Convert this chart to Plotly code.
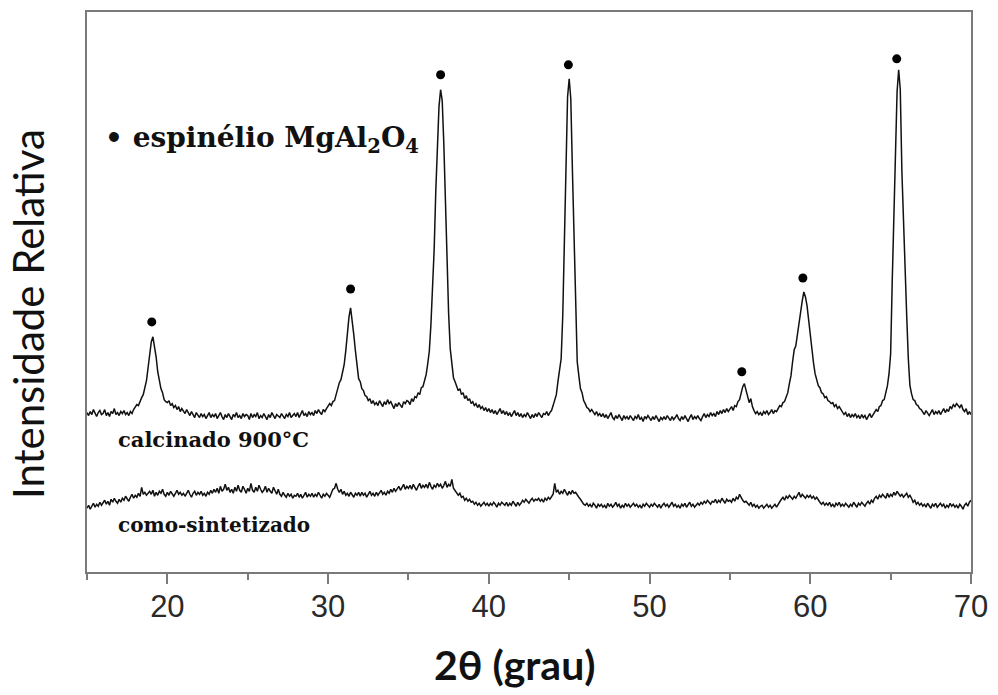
import numpy as np
import plotly.graph_objects as go

# Scan grid: 2theta from 15.0 to 70.0 degrees in 0.1 degree steps
SCAN_START = 15.0
SCAN_STEP = 0.1

# Calcined sample (900 C), one row per degree (x.0 ... x.9)
calcinado = [
    160, 157, 161, 158, 163, 159, 156, 160, 162, 158,  # 15
    159, 163, 157, 160, 156, 161, 159, 164, 158, 160,  # 16
    157, 161, 159, 162, 158, 160, 157, 161, 159, 163,  # 17
    166, 168, 167, 172, 175, 178, 186, 192, 205, 217,  # 18
    231, 236, 227, 216, 201, 193, 184, 180, 173, 171,  # 19
    170, 172, 167, 169, 165, 167, 163, 166, 161, 164,  # 20
    162, 159, 163, 160, 157, 161, 158, 155, 160, 157,  # 21
    155, 159, 156, 158, 154, 157, 160, 155, 158, 156,  # 22
    159, 154, 157, 160, 156, 153, 158, 155, 159, 156,  # 23
    153, 158, 156, 160, 155, 157, 154, 159, 156, 158,  # 24
    157, 153, 159, 155, 158, 156, 160, 154, 157, 155,  # 25
    159, 156, 153, 158, 155, 160, 157, 154, 158, 156,  # 26
    155, 159, 157, 154, 158, 156, 160, 155, 157, 159,  # 27
    156, 160, 155, 158, 162, 157, 159, 156, 161, 158,  # 28
    160, 157, 162, 159, 163, 160, 158, 163, 161, 164,  # 29
    166, 169, 167, 171, 172, 178, 182, 190, 193, 200,  # 30
    208, 222, 240, 256, 265, 254, 238, 222, 208, 194,  # 31
    191, 184, 182, 177, 176, 172, 174, 169, 172, 168,  # 32
    170, 167, 172, 169, 166, 171, 168, 173, 169, 171,  # 33
    167, 164, 169, 166, 170, 168, 165, 171, 169, 172,  # 34
    171, 168, 174, 171, 176, 175, 180, 178, 185, 186,  # 35
    193, 198, 209, 222, 249, 280, 324, 382, 432, 467,  # 36
    484, 473, 430, 371, 301, 259, 224, 207, 195, 191,  # 37
    187, 182, 184, 178, 180, 174, 177, 172, 174, 169,  # 38
    171, 167, 169, 165, 168, 164, 166, 162, 165, 161,  # 39
    164, 160, 163, 159, 162, 158, 161, 164, 159, 162,  # 40
    158, 161, 157, 160, 156, 159, 162, 157, 160, 156,  # 41
    159, 155, 158, 156, 160, 157, 154, 158, 155, 159,  # 42
    156, 160, 157, 155, 159, 158, 161, 157, 160, 162,  # 43
    167, 173, 178, 191, 202, 214, 257, 334, 402, 477,  # 44
    495, 475, 404, 332, 259, 211, 197, 184, 180, 172,  # 45
    169, 165, 164, 161, 163, 160, 158, 161, 157, 159,  # 46
    156, 159, 155, 158, 154, 157, 160, 155, 153, 157,  # 47
    154, 158, 155, 152, 157, 154, 156, 153, 157, 155,  # 48
    152, 156, 154, 158, 153, 155, 151, 156, 154, 157,  # 49
    155, 152, 156, 153, 157, 154, 151, 155, 153, 156,  # 50
    153, 157, 154, 152, 156, 153, 155, 158, 154, 152,  # 51
    156, 153, 157, 154, 151, 155, 158, 153, 156, 154,  # 52
    157, 154, 152, 156, 159, 155, 158, 156, 160, 157,  # 53
    159, 156, 161, 158, 162, 159, 163, 160, 164, 161,  # 54
    163, 166, 162, 167, 166, 171, 173, 181, 186, 189,  # 55
    182, 175, 170, 174, 166, 162, 159, 161, 158, 160,  # 56
    157, 161, 159, 162, 158, 160, 163, 159, 162, 161,  # 57
    164, 167, 166, 170, 171, 176, 180, 189, 197, 211,  # 58
    223, 227, 239, 251, 265, 272, 281, 276, 267, 251,  # 59
    237, 219, 210, 199, 194, 187, 185, 180, 179, 175,  # 60
    176, 172, 171, 169, 170, 166, 168, 164, 166, 163,  # 61
    161, 158, 160, 156, 159, 155, 158, 156, 159, 155,  # 62
    157, 154, 158, 155, 157, 153, 156, 159, 155, 158,  # 63
    160, 163, 161, 166, 167, 172, 173, 179, 187, 199,  # 64
    219, 292, 347, 404, 482, 504, 484, 402, 349, 292,  # 65
    257, 214, 187, 179, 173, 172, 168, 167, 164, 163,  # 66
    161, 158, 162, 159, 157, 160, 163, 158, 161, 159,  # 67
    162, 158, 161, 164, 160, 163, 161, 166, 164, 168,  # 68
    166, 169, 167, 165, 168, 163, 161, 164, 158, 161,  # 69
    158,                                               # 70
]

# As-synthesized sample (amorphous), same grid
como_sintetizado = [
    64, 67, 63, 66, 69, 65, 68, 66, 70, 67,  # 15
    69, 72, 68, 71, 67, 73, 70, 74, 71, 69,  # 16
    73, 70, 74, 72, 76, 73, 71, 75, 78, 74,  # 17
    77, 75, 79, 76, 85, 78, 80, 77, 79, 81,  # 18
    78, 82, 76, 80, 77, 81, 79, 83, 78, 76,  # 19
    80, 77, 81, 78, 76, 79, 82, 78, 80, 77,  # 20
    79, 76, 80, 82, 78, 75, 79, 81, 77, 80,  # 21
    78, 81, 77, 79, 76, 80, 78, 82, 79, 83,  # 22
    80, 84, 79, 86, 81, 83, 88, 82, 85, 80,  # 23
    83, 79, 85, 81, 87, 82, 80, 86, 83, 79,  # 24
    84, 81, 89, 82, 80, 85, 81, 87, 83, 80,  # 25
    82, 86, 80, 84, 81, 79, 85, 82, 78, 83,  # 26
    78, 76, 80, 77, 75, 79, 76, 78, 74, 77,  # 27
    76, 79, 75, 78, 74, 77, 80, 75, 78, 76,  # 28
    79, 75, 78, 76, 80, 77, 74, 78, 76, 79,  # 29
    77, 75, 79, 83, 84, 89, 83, 80, 83, 78,  # 30
    81, 77, 79, 76, 80, 78, 75, 79, 77, 80,  # 31
    76, 80, 77, 79, 75, 78, 81, 77, 79, 76,  # 32
    80, 77, 79, 82, 78, 80, 77, 81, 79, 83,  # 33
    80, 84, 81, 83, 86, 82, 85, 88, 83, 86,  # 34
    84, 87, 83, 88, 85, 82, 86, 89, 84, 87,  # 35
    85, 88, 84, 90, 86, 83, 87, 85, 89, 86,  # 36
    88, 84, 87, 91, 85, 88, 86, 93, 84, 82,  # 37
    80, 77, 79, 75, 76, 72, 74, 71, 73, 70,  # 38
    71, 68, 70, 67, 69, 66, 68, 70, 67, 69,  # 39
    66, 69, 67, 70, 68, 65, 69, 67, 70, 68,  # 40
    67, 70, 66, 69, 67, 71, 68, 66, 70, 67,  # 41
    69, 72, 70, 73, 71, 69, 72, 74, 71, 73,  # 42
    72, 74, 71, 73, 70, 74, 72, 75, 73, 76,  # 43
    78, 89, 80, 82, 78, 81, 79, 83, 80, 77,  # 44
    81, 78, 82, 79, 80, 77, 75, 73, 70, 68,  # 45
    67, 69, 66, 68, 65, 69, 67, 64, 68, 66,  # 46
    68, 65, 67, 64, 69, 66, 68, 65, 67, 70,  # 47
    66, 68, 64, 67, 65, 69, 66, 68, 65, 67,  # 48
    69, 66, 68, 65, 67, 64, 68, 66, 69, 67,  # 49
    65, 68, 66, 69, 67, 65, 68, 64, 67, 69,  # 50
    66, 68, 65, 67, 70, 66, 68, 65, 67, 64,  # 51
    68, 66, 69, 65, 67, 70, 66, 68, 65, 67,  # 52
    69, 67, 70, 68, 71, 69, 72, 70, 68, 71,  # 53
    70, 73, 69, 72, 70, 74, 71, 69, 73, 71,  # 54
    72, 70, 74, 71, 75, 73, 78, 74, 72, 70,  # 55
    71, 69, 67, 70, 66, 68, 65, 67, 64, 66,  # 56
    67, 64, 66, 68, 65, 67, 64, 66, 68, 65,  # 57
    68, 71, 73, 75, 72, 76, 74, 77, 75, 73,  # 58
    76, 74, 77, 80, 75, 78, 76, 74, 77, 75,  # 59
    77, 74, 76, 73, 75, 72, 70, 68, 70, 67,  # 60
    69, 67, 70, 66, 68, 65, 69, 67, 70, 66,  # 61
    68, 66, 69, 67, 65, 68, 66, 70, 67, 65,  # 62
    69, 67, 70, 68, 66, 69, 71, 68, 72, 70,  # 63
    74, 76, 73, 77, 75, 78, 76, 74, 79, 75,  # 64
    78, 76, 80, 77, 81, 79, 76, 78, 75, 77,  # 65
    79, 75, 77, 74, 70, 72, 68, 70, 67, 69,  # 66
    66, 68, 65, 69, 67, 64, 68, 66, 69, 65,  # 67
    67, 69, 66, 68, 64, 67, 65, 69, 66, 68,  # 68
    65, 67, 64, 68, 66, 63, 67, 69, 66, 70,  # 69
    72,                                      # 70
]

# Spinel MgAl2O4 reflections marked with a dot above each peak
spinel_2theta = [19.03, 31.4, 37.0, 44.95, 55.74, 59.54, 65.38]
spinel_mark_y = [251, 284, 499, 509, 201, 295, 515]

x_ticks = [20, 30, 40, 50, 60, 70]

two_theta = np.round(SCAN_START + SCAN_STEP * np.arange(len(calcinado)), 1)

fig = go.Figure()
fig.add_trace(go.Scatter(x=two_theta, y=como_sintetizado, mode="lines",
                         line=dict(color="#111111", width=1.5), name="como-sintetizado"))
fig.add_trace(go.Scatter(x=two_theta, y=calcinado, mode="lines",
                         line=dict(color="#111111", width=1.5), name="calcinado 900°C"))
fig.add_trace(go.Scatter(x=spinel_2theta, y=spinel_mark_y, mode="markers",
                         marker=dict(color="#000000", size=9), name="espinélio"))

serif = "DejaVu Serif"
fig.add_annotation(x=16.0, y=434, xref="x", yref="y", xanchor="left", yanchor="middle",
                   text="<b>• espinélio MgAl<sub>2</sub>O<sub>4</sub></b>", showarrow=False,
                   font=dict(family=serif, size=28, color="#111111"))
fig.add_annotation(x=16.8, y=133, xref="x", yref="y", xanchor="left", yanchor="middle",
                   text="<b>calcinado 900°C</b>", showarrow=False,
                   font=dict(family=serif, size=21, color="#111111"))
fig.add_annotation(x=16.8, y=47, xref="x", yref="y", xanchor="left", yanchor="middle",
                   text="<b>como-sintetizado</b>", showarrow=False,
                   font=dict(family=serif, size=20, color="#111111"))

# Axis titles
fig.add_annotation(x=0.484, y=-0.166, xref="paper", yref="paper", xanchor="center", yanchor="middle",
                   text="<b>2θ (grau)</b>", showarrow=False,
                   font=dict(family="Lato", size=41, color="#111111"))
fig.add_annotation(x=-0.066, y=0.46, xref="paper", yref="paper", xanchor="center", yanchor="middle",
                   text="Intensidade Relativa", textangle=-90, showarrow=False,
                   font=dict(family="Lato", size=42, color="#111111"))

fig.update_layout(
    width=998, height=695,
    margin=dict(l=87, r=26, t=10, b=123),
    paper_bgcolor="white", plot_bgcolor="white",
    showlegend=False,
)
fig.update_xaxes(
    range=[15, 70], tickvals=x_ticks, ticks="outside", ticklen=10, tickwidth=1.5,
    tickcolor="#7a7a7a", showline=True, linecolor="#7a7a7a", linewidth=1.5, mirror=True,
    showgrid=False, zeroline=False, ticklabelstandoff=-4,
    tickfont=dict(family="Liberation Sans", size=31, color="#2a2a2a"),
    minor=dict(dtick=5, tick0=0, ticks="outside", ticklen=6, tickwidth=1.5, tickcolor="#7a7a7a", showgrid=False),
)
fig.update_yaxes(
    range=[0, 562], showticklabels=False, ticks="", showline=True, linecolor="#7a7a7a",
    linewidth=1.5, mirror=True, showgrid=False, zeroline=False,
)

fig.write_html("out.html")
